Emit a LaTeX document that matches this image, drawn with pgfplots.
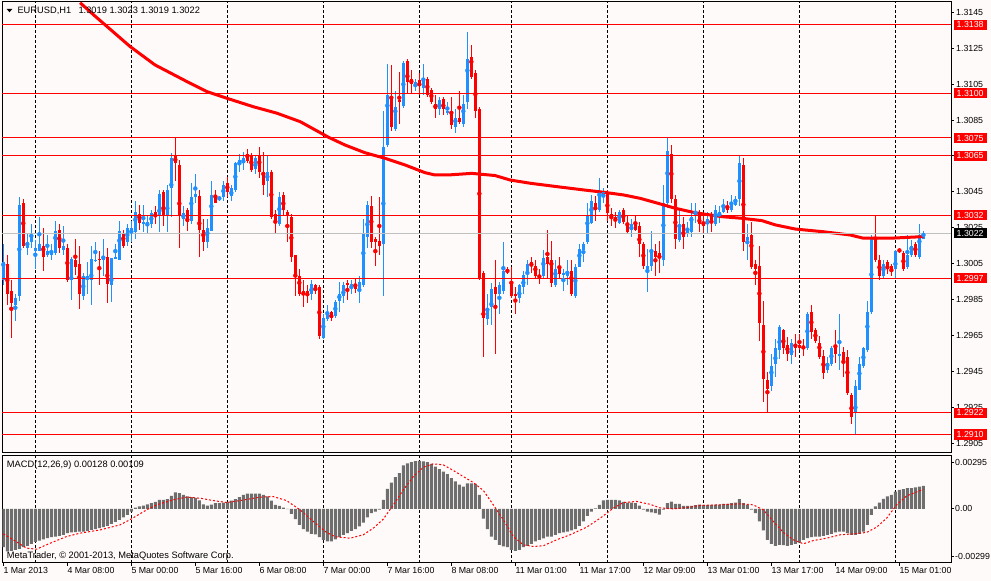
\documentclass[border=0pt]{standalone}
\usepackage{fontspec}
\setmainfont{Liberation Sans}
\usepackage{pgfplots}
\usepackage{pgfplotstable}
\pgfplotsset{compat=1.18}
\definecolor{bg}{RGB}{255,250,250}
\definecolor{bull}{RGB}{30,144,255}
\definecolor{bear}{RGB}{255,0,0}
\definecolor{histc}{RGB}{110,110,110}
\definecolor{curline}{RGB}{192,192,192}
\newcommand{\mtfont}{\fontsize{8.8}{10.5}\selectfont}
\newcommand{\txfont}{\fontsize{9.3}{11}\selectfont}

\pgfplotstableread{
i o h l c
0 1.2996 1.3016 1.2993 1.3006
1 1.3005 1.3010 1.2982 1.2988
2 1.2990 1.2996 1.2964 1.2983
3 1.2982 1.2988 1.2973 1.2986
4 1.2987 1.3042 1.2984 1.3038
5 1.3039 1.3041 1.3014 1.3015
6 1.3014 1.3022 1.3010 1.3017
7 1.3017 1.3027 1.3014 1.3020
8 1.3012 1.3018 1.3002 1.3014
9 1.3012 1.3031 1.3012 1.3016
10 1.3015 1.3025 1.3001 1.3009
11 1.3010 1.3021 1.3009 1.3012
12 1.3010 1.3016 1.3007 1.3011
13 1.3011 1.3029 1.3010 1.3023
14 1.3024 1.3027 1.3011 1.3014
15 1.3013 1.3026 1.3010 1.3015
16 1.3014 1.3016 1.2995 1.2996
17 1.2996 1.3009 1.2985 1.3008
18 1.3007 1.3019 1.2999 1.3003
19 1.3005 1.3015 1.2980 1.2988
20 1.2987 1.3000 1.2985 1.2998
21 1.2997 1.3006 1.2988 1.2998
22 1.2996 1.3015 1.2982 1.3008
23 1.3007 1.3017 1.3006 1.3007
24 1.3008 1.3012 1.2993 1.3007
25 1.3007 1.3019 1.2998 1.3008
26 1.3009 1.3014 1.2983 1.2994
27 1.2993 1.3008 1.2984 1.3008
28 1.3008 1.3016 1.3008 1.3009
29 1.3007 1.3029 1.3007 1.3023
30 1.3022 1.3024 1.3014 1.3015
31 1.3017 1.3027 1.3015 1.3025
32 1.3023 1.3029 1.3017 1.3025
33 1.3023 1.3040 1.3019 1.3034
34 1.3033 1.3038 1.3024 1.3028
35 1.3027 1.3038 1.3023 1.3028
36 1.3027 1.3032 1.3022 1.3028
37 1.3027 1.3035 1.3025 1.3033
38 1.3034 1.3037 1.3027 1.3032
39 1.3032 1.3046 1.3023 1.3044
40 1.3045 1.3046 1.3026 1.3032
41 1.3032 1.3049 1.3023 1.3046
42 1.3047 1.3067 1.3031 1.3064
43 1.3065 1.3075 1.3051 1.3061
44 1.3060 1.3063 1.3014 1.3032
45 1.3030 1.3037 1.3026 1.3033
46 1.3035 1.3036 1.3023 1.3028
47 1.3029 1.3050 1.3027 1.3042
48 1.3042 1.3055 1.3039 1.3044
49 1.3043 1.3046 1.3009 1.3024
50 1.3024 1.3030 1.3012 1.3017
51 1.3017 1.3030 1.3014 1.3025
52 1.3023 1.3051 1.3023 1.3043
53 1.3042 1.3046 1.3039 1.3039
54 1.3041 1.3043 1.3040 1.3042
55 1.3042 1.3051 1.3040 1.3049
56 1.3050 1.3053 1.3042 1.3045
57 1.3043 1.3049 1.3040 1.3047
58 1.3046 1.3062 1.3045 1.3061
59 1.3061 1.3066 1.3056 1.3063
60 1.3061 1.3067 1.3057 1.3064
61 1.3066 1.3069 1.3061 1.3062
62 1.3065 1.3067 1.3056 1.3057
63 1.3058 1.3065 1.3055 1.3064
64 1.3065 1.3070 1.3053 1.3056
65 1.3056 1.3067 1.3043 1.3049
66 1.3051 1.3065 1.3042 1.3056
67 1.3056 1.3057 1.3030 1.3031
68 1.3033 1.3035 1.3022 1.3028
69 1.3027 1.3045 1.3026 1.3042
70 1.3043 1.3045 1.3032 1.3035
71 1.3034 1.3035 1.3017 1.3032
72 1.3031 1.3033 1.3006 1.3009
73 1.3010 1.3010 1.2987 1.2998
74 1.2998 1.3002 1.2987 1.2988
75 1.2990 1.2996 1.2981 1.2988
76 1.2990 1.2993 1.2983 1.2987
77 1.2988 1.2996 1.2985 1.2994
78 1.2993 1.2994 1.2988 1.2991
79 1.2992 1.2993 1.2963 1.2965
80 1.2964 1.2977 1.2963 1.2975
81 1.2974 1.2982 1.2973 1.2977
82 1.2978 1.2979 1.2973 1.2975
83 1.2976 1.2985 1.2975 1.2984
84 1.2984 1.2995 1.2978 1.2988
85 1.2987 1.2995 1.2983 1.2993
86 1.2994 1.2996 1.2985 1.2993
87 1.2992 1.2996 1.2988 1.2994
88 1.2993 1.2997 1.2989 1.2991
89 1.2990 1.2998 1.2983 1.2995
90 1.2993 1.3030 1.2992 1.3022
91 1.3020 1.3040 1.3014 1.3038
92 1.3037 1.3043 1.3014 1.3017
93 1.3019 1.3020 1.3004 1.3017
94 1.3018 1.3042 1.3010 1.3015
95 1.3016 1.3090 1.2987 1.3070
96 1.3071 1.3116 1.3070 1.3099
97 1.3098 1.3116 1.3079 1.3081
98 1.3080 1.3101 1.3079 1.3092
99 1.3096 1.3112 1.3083 1.3095
100 1.3093 1.3118 1.3092 1.3117
101 1.3118 1.3119 1.3100 1.3106
102 1.3108 1.3113 1.3100 1.3105
103 1.3104 1.3108 1.3101 1.3106
104 1.3107 1.3111 1.3099 1.3104
105 1.3103 1.3116 1.3099 1.3107
106 1.3108 1.3109 1.3098 1.3099
107 1.3102 1.3103 1.3094 1.3095
108 1.3094 1.3099 1.3086 1.3091
109 1.3091 1.3098 1.3088 1.3096
110 1.3097 1.3098 1.3088 1.3091
111 1.3089 1.3095 1.3088 1.3090
112 1.3089 1.3098 1.3080 1.3082
113 1.3081 1.3091 1.3078 1.3086
114 1.3086 1.3101 1.3083 1.3084
115 1.3083 1.3099 1.3081 1.3094
116 1.3095 1.3134 1.3091 1.3119
117 1.3120 1.3127 1.3108 1.3109
118 1.3111 1.3113 1.3086 1.3090
119 1.3091 1.3092 1.2996 1.2997
120 1.3000 1.3001 1.2953 1.2975
121 1.2974 1.2988 1.2971 1.2980
122 1.2981 1.2994 1.2971 1.2991
123 1.2992 1.3007 1.2955 1.2988
124 1.2988 1.2995 1.2977 1.2993
125 1.2990 1.3017 1.2988 1.3001
126 1.3002 1.3003 1.2999 1.3001
127 1.2995 1.3003 1.2986 1.2987
128 1.2988 1.2992 1.2977 1.2987
129 1.2986 1.2994 1.2983 1.2993
130 1.2992 1.3001 1.2988 1.2999
131 1.3000 1.3007 1.2993 1.3005
132 1.3006 1.3009 1.3000 1.3004
133 1.3004 1.3007 1.2997 1.2998
134 1.2999 1.3002 1.2994 1.2998
135 1.2998 1.3013 1.2997 1.3008
136 1.3009 1.3024 1.2997 1.3005
137 1.3007 1.3018 1.2992 1.2994
138 1.2993 1.3007 1.2992 1.3002
139 1.3003 1.3009 1.2997 1.2999
140 1.2999 1.3002 1.2990 1.3000
141 1.2998 1.3007 1.2993 1.3000
142 1.3001 1.3007 1.2987 1.2988
143 1.2987 1.3005 1.2986 1.3003
144 1.3003 1.3016 1.3003 1.3013
145 1.3013 1.3017 1.3006 1.3016
146 1.3017 1.3039 1.3016 1.3032
147 1.3028 1.3043 1.3027 1.3040
148 1.3039 1.3043 1.3029 1.3036
149 1.3035 1.3053 1.3034 1.3045
150 1.3044 1.3047 1.3039 1.3045
151 1.3045 1.3046 1.3029 1.3033
152 1.3033 1.3036 1.3026 1.3032
153 1.3031 1.3034 1.3025 1.3030
154 1.3028 1.3035 1.3027 1.3034
155 1.3035 1.3036 1.3027 1.3028
156 1.3027 1.3032 1.3022 1.3023
157 1.3024 1.3030 1.3020 1.3027
158 1.3027 1.3032 1.3023 1.3024
159 1.3026 1.3028 1.3009 1.3016
160 1.3016 1.3017 1.3002 1.3004
161 1.3002 1.3013 1.2989 1.3004
162 1.3004 1.3023 1.3001 1.3013
163 1.3012 1.3016 1.2998 1.3009
164 1.3011 1.3018 1.3000 1.3008
165 1.3007 1.3049 1.3004 1.3039
166 1.3039 1.3075 1.3036 1.3068
167 1.3066 1.3071 1.3039 1.3041
168 1.3041 1.3043 1.3013 1.3019
169 1.3018 1.3035 1.3017 1.3026
170 1.3027 1.3031 1.3013 1.3020
171 1.3022 1.3028 1.3020 1.3025
172 1.3023 1.3039 1.3020 1.3031
173 1.3032 1.3039 1.3028 1.3033
174 1.3034 1.3035 1.3023 1.3027
175 1.3027 1.3033 1.3022 1.3026
176 1.3027 1.3034 1.3022 1.3030
177 1.3032 1.3034 1.3023 1.3028
178 1.3027 1.3038 1.3026 1.3035
179 1.3033 1.3037 1.3028 1.3034
180 1.3034 1.3041 1.3033 1.3037
181 1.3036 1.3040 1.3033 1.3035
182 1.3035 1.3043 1.3034 1.3038
183 1.3038 1.3043 1.3037 1.3041
184 1.3041 1.3065 1.3037 1.3061
185 1.3060 1.3064 1.3012 1.3017
186 1.3018 1.3027 1.3007 1.3020
187 1.3021 1.3028 1.3002 1.3003
188 1.3005 1.3007 1.2993 1.3002
189 1.3004 1.3015 1.2962 1.2972
190 1.2971 1.2984 1.2928 1.2941
191 1.2940 1.2945 1.2922 1.2935
192 1.2937 1.2955 1.2934 1.2948
193 1.2949 1.2963 1.2942 1.2958
194 1.2957 1.2971 1.2952 1.2970
195 1.2968 1.2969 1.2955 1.2958
196 1.2960 1.2964 1.2951 1.2955
197 1.2954 1.2963 1.2949 1.2961
198 1.2960 1.2966 1.2953 1.2958
199 1.2960 1.2966 1.2957 1.2958
200 1.2959 1.2963 1.2954 1.2958
201 1.2958 1.2978 1.2957 1.2977
202 1.2978 1.2982 1.2963 1.2967
203 1.2968 1.2969 1.2961 1.2962
204 1.2961 1.2965 1.2952 1.2953
205 1.2954 1.2957 1.2941 1.2944
206 1.2946 1.2953 1.2944 1.2950
207 1.2949 1.2959 1.2948 1.2958
208 1.2958 1.2968 1.2950 1.2955
209 1.2954 1.2977 1.2946 1.2955
210 1.2956 1.2959 1.2942 1.2951
211 1.2953 1.2957 1.2932 1.2933
212 1.2932 1.2933 1.2916 1.2920
213 1.2922 1.2940 1.2910 1.2937
214 1.2935 1.2953 1.2935 1.2949
215 1.2948 1.2959 1.2947 1.2958
216 1.2957 1.2984 1.2956 1.2978
217 1.2978 1.3021 1.2977 1.3019
218 1.3019 1.3032 1.3006 1.3007
219 1.3007 1.3010 1.2996 1.2998
220 1.2998 1.3007 1.2997 1.3005
221 1.3006 1.3007 1.2999 1.3002
222 1.3004 1.3005 1.2998 1.3001
223 1.3002 1.3013 1.2997 1.3012
224 1.3013 1.3014 1.3011 1.3012
225 1.3011 1.3012 1.3001 1.3002
226 1.3003 1.3021 1.3002 1.3010
227 1.3010 1.3018 1.3009 1.3015
228 1.3016 1.3017 1.3009 1.3010
229 1.3009 1.3027 1.3008 1.3021
230 1.3019 1.3023 1.3019 1.3022
}\candles

\pgfplotstableread{
i m
0 -0.00213
1 -0.00236
2 -0.00233
3 -0.00228
4 -0.00222
5 -0.00213
6 -0.00206
7 -0.00194
8 -0.00183
9 -0.00176
10 -0.00169
11 -0.00163
12 -0.00157
13 -0.00154
14 -0.00150
15 -0.00144
16 -0.00135
17 -0.00131
18 -0.00129
19 -0.00127
20 -0.00126
21 -0.00122
22 -0.00117
23 -0.00113
24 -0.00107
25 -0.00102
26 -0.00094
27 -0.00084
28 -0.00072
29 -0.00061
30 -0.00047
31 -0.00033
32 -0.00015
33 0.00007
34 0.00013
35 0.00018
36 0.00025
37 0.00032
38 0.00039
39 0.00050
40 0.00050
41 0.00054
42 0.00072
43 0.00092
44 0.00087
45 0.00077
46 0.00069
47 0.00065
48 0.00059
49 0.00047
50 0.00025
51 0.00018
52 0.00024
53 0.00032
54 0.00032
55 0.00035
56 0.00039
57 0.00045
58 0.00054
59 0.00065
60 0.00077
61 0.00084
62 0.00084
63 0.00084
64 0.00084
65 0.00077
66 0.00069
67 0.00045
68 0.00022
69 0.00017
70 0.00007
71 -0.00002
72 -0.00028
73 -0.00057
74 -0.00089
75 -0.00113
76 -0.00127
77 -0.00139
78 -0.00142
79 -0.00157
80 -0.00172
81 -0.00180
82 -0.00181
83 -0.00169
84 -0.00157
85 -0.00144
86 -0.00135
87 -0.00122
88 -0.00113
89 -0.00098
90 -0.00076
91 -0.00047
92 -0.00024
93 -0.00015
94 -0.00005
95 0.00050
96 0.00111
97 0.00146
98 0.00176
99 0.00198
100 0.00241
101 0.00253
102 0.00259
103 0.00265
104 0.00266
105 0.00263
106 0.00259
107 0.00250
108 0.00235
109 0.00221
110 0.00207
111 0.00193
112 0.00171
113 0.00152
114 0.00134
115 0.00124
116 0.00142
117 0.00142
118 0.00139
119 0.00077
120 -0.00055
121 -0.00113
122 -0.00154
123 -0.00172
124 -0.00200
125 -0.00209
126 -0.00213
127 -0.00228
128 -0.00233
129 -0.00228
130 -0.00213
131 -0.00206
132 -0.00194
133 -0.00181
134 -0.00172
135 -0.00164
136 -0.00154
137 -0.00154
138 -0.00144
139 -0.00135
140 -0.00131
141 -0.00127
142 -0.00120
143 -0.00113
144 -0.00094
145 -0.00070
146 -0.00039
147 -0.00015
148 0.00003
149 0.00022
150 0.00047
151 0.00050
152 0.00050
153 0.00050
154 0.00047
155 0.00039
156 0.00035
157 0.00035
158 0.00032
159 0.00018
160 -0.00005
161 -0.00015
162 -0.00020
163 -0.00024
164 -0.00032
165 -0.00005
166 0.00032
167 0.00040
168 0.00028
169 0.00028
170 0.00017
171 0.00017
172 0.00017
173 0.00020
174 0.00024
175 0.00022
176 0.00020
177 0.00022
178 0.00024
179 0.00024
180 0.00028
181 0.00028
182 0.00032
183 0.00035
184 0.00054
185 0.00032
186 0.00020
187 -0.00005
188 -0.00024
189 -0.00070
190 -0.00120
191 -0.00172
192 -0.00194
193 -0.00206
194 -0.00200
195 -0.00201
196 -0.00206
197 -0.00200
198 -0.00194
199 -0.00187
200 -0.00172
201 -0.00163
202 -0.00157
203 -0.00154
204 -0.00154
205 -0.00150
206 -0.00144
207 -0.00139
208 -0.00131
209 -0.00127
210 -0.00127
211 -0.00135
212 -0.00144
213 -0.00144
214 -0.00139
215 -0.00126
216 -0.00089
217 -0.00033
218 0.00013
219 0.00035
220 0.00055
221 0.00069
222 0.00077
223 0.00096
224 0.00105
225 0.00109
226 0.00115
227 0.00115
228 0.00119
229 0.00124
230 0.00128
}\macd

\begin{document}
\begin{tikzpicture}[x=1pt,y=1pt]
\fill[bg] (0,0) rectangle (991,581);
\path[use as bounding box] (0,0) rectangle (991,581);

% ---------------- main price panel ----------------
\begin{axis}[
  at={(2.3pt,128.3pt)}, anchor=south west,
  scale only axis, width=948.7pt, height=450.7pt,
  xmin=-0.25, xmax=236.9, ymin=1.28998, ymax=1.31507,
  clip=false,
  axis line style={line width=1pt, black},
  /pgf/number format/assume math mode=true,
  /pgf/number format/fixed,
  /pgf/number format/fixed zerofill,
  /pgf/number format/precision=4,
  scaled y ticks=false,
  ytick={1.2905,1.2925,1.2945,1.2965,1.2985,1.3005,1.3025,1.3045,1.3065,1.3085,1.3105,1.3125,1.3145},
  ytick pos=right, yticklabel pos=right,
  tick align=outside, major tick length=3pt,
  tick style={black, line width=1pt},
  y tick label style={anchor=west, inner sep=0pt, xshift=2pt, font=\mtfont},
  xtick=\empty,
  extra x ticks={8,32,56,80,104,127,151,175,199,223},
  extra x tick labels={},
  extra x tick style={grid=major, major tick length=0pt,
     major grid style={black, line width=1pt, dash pattern=on 3pt off 2pt}},
]
% wicks
\addplot[only marks, mark=none, bull,
  restrict expr to domain={\thisrow{c}-\thisrow{o}}{0:1},
  error bars/.cd, y dir=both, y explicit, error mark=none,
  error bar style={line width=1pt, bull}]
  table[x=i, y expr={(\thisrow{h}+\thisrow{l})/2}, y error expr={(\thisrow{h}-\thisrow{l})/2}] {\candles};
\addplot[only marks, mark=none, bear,
  restrict expr to domain={\thisrow{o}-\thisrow{c}}{0.00001:1},
  error bars/.cd, y dir=both, y explicit, error mark=none,
  error bar style={line width=1pt, bear}]
  table[x=i, y expr={(\thisrow{h}+\thisrow{l})/2}, y error expr={(\thisrow{h}-\thisrow{l})/2}] {\candles};
% bodies
\addplot[only marks, mark=-, mark size=1.5pt, mark options={line width=1pt, bull}, bull,
  restrict expr to domain={\thisrow{c}-\thisrow{o}}{0:1},
  error bars/.cd, y dir=both, y explicit, error mark=none,
  error bar style={line width=3pt, bull}]
  table[x=i, y expr={(\thisrow{o}+\thisrow{c})/2}, y error expr={abs(\thisrow{c}-\thisrow{o})/2}] {\candles};
\addplot[only marks, mark=-, mark size=1.5pt, mark options={line width=1pt, bear}, bear,
  restrict expr to domain={\thisrow{o}-\thisrow{c}}{0.00001:1},
  error bars/.cd, y dir=both, y explicit, error mark=none,
  error bar style={line width=3pt, bear}]
  table[x=i, y expr={(\thisrow{o}+\thisrow{c})/2}, y error expr={abs(\thisrow{c}-\thisrow{o})/2}] {\candles};
% moving average
\addplot[bear, line width=3pt, line join=round] coordinates {
(19.2,1.31503) (22.9,1.31429) (31.7,1.31259) (37.9,1.31157) (45.9,1.31064)
(50.9,1.31008) (55.9,1.30971) (62.5,1.30924) (68.4,1.30888) (74.2,1.30841)
(81.3,1.30754) (85.4,1.30711) (90.4,1.30668) (95.4,1.30637) (100.4,1.30600)
(105.4,1.30557) (107.9,1.30544) (111.2,1.30544) (117.1,1.30553) (122.9,1.30541)
(126.7,1.30516) (131.7,1.30498) (138.4,1.30479) (145,1.30461) (150,1.30448)
(155,1.30433) (159.2,1.30414) (164.2,1.30383) (167.9,1.30359) (172.9,1.30334)
(179.6,1.30312) (184.6,1.30303) (189.6,1.30290) (193,1.30266) (198,1.30243)
(205,1.30228) (211.7,1.30210) (215,1.30192) (221.7,1.30192) (229.2,1.30200) (230,1.30201)};
% current price line
\addplot[curline, line width=1pt] coordinates {(-0.25,1.3022) (236.9,1.3022)};
% horizontal levels
\pgfplotsinvokeforeach{1.3138,1.3100,1.3075,1.3065,1.3032,1.2997,1.2922,1.2910}{
  \addplot[bear, line width=1pt] coordinates {(-0.25,#1) (236.9,#1)};
  \node[anchor=west, fill=bear, text=white, font=\mtfont, inner xsep=3pt, inner ysep=0pt,
        minimum height=10.5pt, xshift=2.5pt] at (axis cs:236.9,#1) {#1};
}
\node[anchor=west, fill=black, text=white, font=\mtfont, inner xsep=3pt, inner ysep=0pt,
      minimum height=10.5pt, xshift=2.5pt] at (axis cs:236.9,1.3022) {1.3022};
\end{axis}

% ---------------- MACD panel ----------------
\begin{axis}[
  at={(2.3pt,18.3pt)}, anchor=south west,
  scale only axis, width=948.7pt, height=107pt,
  xmin=-0.25, xmax=236.9, ymin=-0.00299, ymax=0.00295,
  axis line style={line width=1pt, black},
  /pgf/number format/assume math mode=true,
  scaled y ticks=false,
  ytick={-0.00264,0,0.0026},
  yticklabels={-0.00299,0.00,0.00295},
  ytick pos=right, yticklabel pos=right,
  tick align=outside, major tick length=3pt,
  tick style={black, line width=1pt},
  y tick label style={anchor=west, inner sep=0pt, xshift=1pt, font=\mtfont},
  xtick={0,16,...,224},
  xticklabels={1 Mar 2013,4 Mar 08:00,5 Mar 00:00,5 Mar 16:00,6 Mar 08:00,7 Mar 00:00,7 Mar 16:00,8 Mar 08:00,11 Mar 01:00,11 Mar 17:00,12 Mar 09:00,13 Mar 01:00,13 Mar 17:00,14 Mar 09:00,15 Mar 01:00},
  xtick pos=bottom,
  x tick label style={anchor=north west, inner sep=0pt, yshift=-1.5pt, font=\mtfont},
  extra x ticks={8,32,56,80,104,127,151,175,199,223},
  extra x tick labels={},
  extra x tick style={grid=major, major tick length=0pt,
     major grid style={black, line width=1pt, dash pattern=on 3pt off 2pt}},
]
\addplot[ybar, bar width=3pt, bar shift=0pt, fill=histc, draw=none] table[x=i, y=m] {\macd};
\addplot[bear, line width=1pt, dash pattern=on 2pt off 2pt] coordinates {
(0,-0.00139) (2.5,-0.00172) (5.8,-0.00218) (8.3,-0.00224) (11.7,-0.00191) (15.8,-0.00154)
(19.2,-0.00135) (24.2,-0.00117) (29.2,-0.00089) (32,-0.00056) (35.8,-0.00006) (38.3,0.00022)
(42.5,0.00050) (45.8,0.00065) (49.2,0.00059) (52.5,0.00046) (55.8,0.00035) (59.2,0.00046)
(64.2,0.00065) (67.5,0.00068) (70.8,0.00046) (74.2,-0.00006) (77.5,-0.00070) (80.8,-0.00131)
(83,-0.00155) (86.7,-0.00163) (90,-0.00144) (92.5,-0.00107) (95,-0.00057) (97.5,0.00022)
(100,0.00105) (102.5,0.00179) (105,0.00231) (107.5,0.00250) (110,0.00244) (112.5,0.00213)
(115,0.00179) (117.5,0.00146) (120,0.00102) (122.5,0.00022) (125,-0.00061) (127.5,-0.00154)
(130,-0.00200) (132.5,-0.00209) (135,-0.00205) (138.3,-0.00172) (141.7,-0.00144) (145.8,-0.00102)
(149.2,-0.00052) (152.5,0.00004) (155,0.00035) (158.3,0.00041) (161.7,0.00025) (164.2,0.00005)
(167.5,0.00000) (170.8,0.00007) (174.2,0.00019) (179.2,0.00022) (184.2,0.00028) (187.5,0.00022)
(190,-0.00006) (192.5,-0.00070) (195,-0.00131) (197.5,-0.00172) (200,-0.00194) (202.5,-0.00176)
(205.8,-0.00163) (209.2,-0.00144) (212.5,-0.00139) (215.8,-0.00131) (218.3,-0.00102) (220.8,-0.00052)
(223.3,0.00022) (225.8,0.00072) (229.6,0.00105) (230,0.00109)};
\end{axis}

% ---------------- texts ----------------
\fill[black] (6.7,572) -- (12.3,572) -- (9.5,568.7) -- cycle;
\node[anchor=base west, inner sep=0pt, font=\txfont] at (17.3,567) {EURUSD,H1};
\node[anchor=base west, inner sep=0pt, font=\txfont] at (78.3,567) {1.3019 1.3023 1.3019 1.3022};
\node[anchor=base west, inner sep=0pt, font=\txfont] at (6.7,113.5) {MACD(12,26,9) 0.00128 0.00109};
\node[anchor=base west, inner sep=0pt, font=\txfont] at (6.7,22.3) {MetaTrader, © 2001-2013, MetaQuotes Software Corp.};
\end{tikzpicture}
\end{document}
